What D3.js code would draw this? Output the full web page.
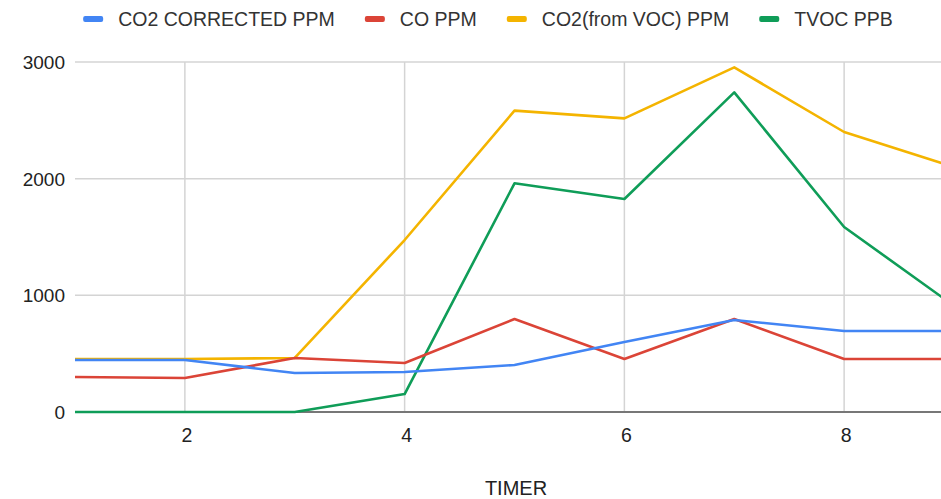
<!DOCTYPE html>
<html>
<head>
<meta charset="utf-8">
<script src="https://cdn.jsdelivr.net/npm/d3@7/dist/d3.min.js"></script>
<style>
  html, body { margin: 0; padding: 0; background: #fff; overflow: hidden; }
  svg { display: block; font-family: "Liberation Sans", Arial, sans-serif; }
</style>
</head>
<body>
<svg id="chart"></svg>
<script>
// values
const timer = [1, 2, 3, 4, 5, 6, 7, 8, 9];
const co2Corrected = [446, 446, 334, 343, 403, 600, 789, 694, 694];
const coPpm = [300, 291, 463, 420, 797, 454, 797, 454, 454];
const co2FromVoc = [454, 454, 463, 1474, 2583, 2517, 2954, 2400, 2100];
const tvocPpb = [0, 0, 0, 154, 1960, 1826, 2740, 1586, 910];

const seriesNames = ["CO2 CORRECTED PPM", "CO PPM", "CO2(from VOC) PPM", "TVOC PPB"];
const seriesColors = ["#4285f4", "#db4437", "#f4b400", "#0f9d58"];
const allSeries = [co2Corrected, coPpm, co2FromVoc, tvocPpb];

const xTicks = [2, 4, 6, 8];
const yTicks = [0, 1000, 2000, 3000];

const width = 941, height = 499;

const svg = d3.select("#chart")
  .attr("width", width)
  .attr("height", height);

// scales - chart is cropped on the right, x=9 lies just past the edge
const x = d3.scaleLinear().domain([1, 9]).range([75, 954]);
const y = d3.scaleLinear().domain([0, 3000]).range([412, 62]);

// grid
svg.append("g")
  .selectAll("line.h")
  .data(yTicks.filter(d => d > 0))
  .enter()
  .append("line")
  .attr("x1", x(1))
  .attr("x2", x(9))
  .attr("y1", d => y(d))
  .attr("y2", d => y(d))
  .attr("stroke", "#d4d4d4")
  .attr("stroke-width", 1.5);

svg.append("g")
  .selectAll("line.v")
  .data(xTicks)
  .enter()
  .append("line")
  .attr("x1", d => x(d))
  .attr("x2", d => x(d))
  .attr("y1", y(3000))
  .attr("y2", y(0))
  .attr("stroke", "#d4d4d4")
  .attr("stroke-width", 1.5);

// zero baseline
svg.append("line")
  .attr("x1", x(1))
  .attr("x2", x(9))
  .attr("y1", y(0))
  .attr("y2", y(0))
  .attr("stroke", "#777")
  .attr("stroke-width", 2);

// axis labels
svg.append("g")
  .selectAll("text")
  .data(yTicks)
  .enter()
  .append("text")
  .attr("x", 65)
  .attr("y", d => y(d) + 7)
  .attr("text-anchor", "end")
  .style("font-size", "19px")
  .style("fill", "#222")
  .text(d => d);

svg.append("g")
  .selectAll("text")
  .data(xTicks)
  .enter()
  .append("text")
  .attr("x", d => x(d) + 2)
  .attr("y", 442)
  .attr("text-anchor", "middle")
  .style("font-size", "19.5px")
  .style("fill", "#222")
  .text(d => d);

svg.append("text")
  .attr("x", 516)
  .attr("y", 495)
  .attr("text-anchor", "middle")
  .style("font-size", "20px")
  .style("fill", "#222")
  .text("TIMER");

// lines
const line = d3.line()
  .x((d, i) => x(timer[i]))
  .y(d => y(d));

// draw order: green underneath, blue on top
[3, 2, 1, 0].forEach(k => {
  svg.append("path")
    .datum(allSeries[k])
    .attr("d", line)
    .attr("fill", "none")
    .attr("stroke", seriesColors[k])
    .attr("stroke-width", 2.6)
    .attr("stroke-linejoin", "round");
});

// legend, centred around x=488
const legend = svg.append("g");
const items = legend.selectAll("g")
  .data(seriesNames)
  .enter()
  .append("g");

items.append("text")
  .attr("y", 26)
  .style("font-size", "19.5px")
  .style("fill", "#333")
  .text(d => d);

const widths = [];
items.selectAll("text").each(function () { widths.push(this.getComputedTextLength()); });

const markerW = 20, markerGap = 15, itemGap = 30;
const total = d3.sum(widths) + seriesNames.length * (markerW + markerGap) + (seriesNames.length - 1) * itemGap;
let cursor = 488 - total / 2;
items.each(function (d, i) {
  const g = d3.select(this).attr("transform", `translate(${cursor},0)`);
  g.insert("rect", "text")
    .attr("x", 0)
    .attr("y", 16)
    .attr("width", markerW)
    .attr("height", 6)
    .attr("rx", 2)
    .attr("fill", seriesColors[i]);
  g.select("text").attr("x", markerW + markerGap);
  cursor += markerW + markerGap + widths[i] + itemGap;
});
</script>
</body>
</html>
